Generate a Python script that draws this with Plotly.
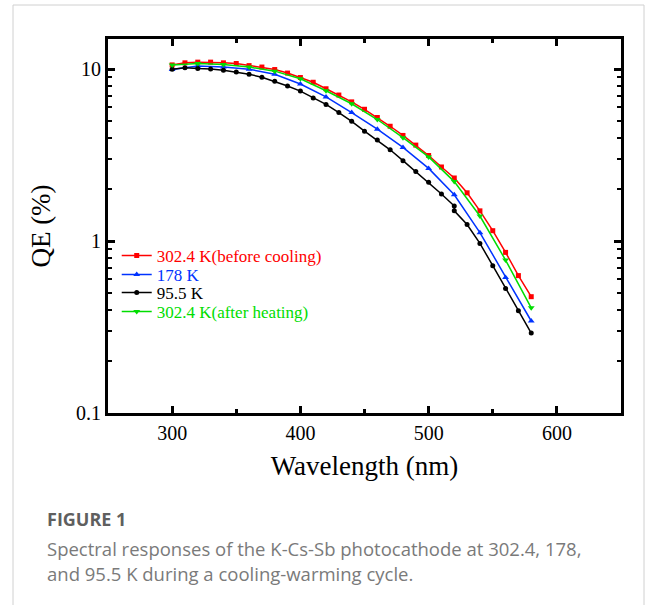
import plotly.graph_objects as go

# ---------------- data ----------------
wl_10 = [300, 310, 320, 330, 340, 350, 360, 370, 380, 390, 400, 410, 420, 430, 440,
         450, 460, 470, 480, 490, 500, 510, 520, 530, 540, 550, 560, 570, 580]
wl_20 = [300, 320, 340, 360, 380, 400, 420, 440, 460, 480, 500, 520, 540, 560, 580]
wl_black = [300, 310, 320, 330, 340, 350, 360, 370, 380, 390, 400, 410, 420, 430, 440,
            450, 460, 470, 480, 490, 500, 510, 520, 520, 530, 540, 550, 560, 570, 580]

qe_before = [10.6, 10.9, 11.0, 11.0, 10.9, 10.8, 10.5, 10.3, 9.96, 9.5, 8.95, 8.4, 7.7, 7.08, 6.46,
             5.85, 5.24, 4.66, 4.12, 3.62, 3.15, 2.70, 2.33, 1.91, 1.50, 1.15, 0.86, 0.63, 0.475]
qe_178 = [9.96, 10.45, 10.3, 10.0, 9.35, 8.2, 6.9, 5.6, 4.48, 3.51, 2.65, 1.86, 1.12, 0.615, 0.343]
qe_95 = [10.0, 10.2, 10.1, 10.05, 9.87, 9.64, 9.35, 8.99, 8.51, 7.99, 7.46, 6.8, 6.24, 5.6, 4.98,
         4.36, 3.87, 3.4, 2.94, 2.54, 2.2, 1.88, 1.6, 1.5, 1.25, 0.97, 0.72, 0.53, 0.394, 0.292]
qe_after = [10.6, 10.8, 10.65, 10.3, 9.75, 8.8, 7.5, 6.3, 5.1, 4.0, 3.09, 2.22, 1.40, 0.776, 0.409]

names = ["302.4 K(before cooling)", "178 K", "95.5 K", "302.4 K(after heating)"]
colors = ["#ff0000", "#0033ff", "#000000", "#00dd00"]
symbols = ["square", "triangle-up", "circle", "triangle-down"]
sizes = [5, 6, 5, 6]

xs = [wl_10, wl_20, wl_black, wl_20]
ys = [qe_before, qe_178, qe_95, qe_after]

x_ticks = [300, 400, 500, 600]
x_minor = [350, 450, 550]
y_ticks = [0.1, 1, 10]
y_ticklabels = ["0.1", "1", "10"]
y_minor = [0.2, 0.3, 0.4, 0.5, 0.6, 0.7, 0.8, 0.9, 2, 3, 4, 5, 6, 7, 8, 9]

# ---------------- figure ----------------
W, H = 656, 605
L, R, T, B = 108, 35, 39, 192
PW, PH = W - L - R, H - T - B

def px(x):
    return (x - L) / PW

def py(y):
    return (H - B - y) / PH

serif = "Liberation Serif, Times New Roman, serif"
legend_ids = ["legend", "legend2", "legend3", "legend4"]
legend_rows = [256, 275, 293, 312]

fig = go.Figure()
for x, y, n, c, s, sz, lg in zip(xs, ys, names, colors, symbols, sizes, legend_ids):
    fig.add_trace(go.Scatter(
        x=x, y=y, mode="lines+markers",
        name=f"<span style='color:{c}'>{n}</span>",
        line=dict(color=c, width=1.5),
        marker=dict(symbol=s, size=sz, color=c),
        legend=lg,
    ))

legend_layout = {}
for lg, row in zip(legend_ids, legend_rows):
    legend_layout[lg] = dict(
        x=0.017, y=py(row), xanchor="left", yanchor="middle",
        bgcolor="rgba(0,0,0,0)", borderwidth=0,
        font=dict(family=serif, size=17),
        itemwidth=30,
    )

fig.update_layout(
    width=W, height=H,
    margin=dict(l=L, r=R, t=T, b=B),
    paper_bgcolor="white", plot_bgcolor="white",
    font=dict(family=serif, color="black"),
    showlegend=True,
    **legend_layout,
    xaxis=dict(
        range=[250, 650], tickvals=x_ticks,
        ticks="inside", ticklen=7, tickwidth=2.5, tickcolor="black",
        minor=dict(tickvals=x_minor, ticks="inside", ticklen=4, tickwidth=2.5, tickcolor="black"),
        showline=True, linewidth=3, linecolor="black", mirror="ticks",
        showgrid=False, zeroline=False,
        tickfont=dict(family=serif, size=20),
        title=dict(text="Wavelength (nm)", font=dict(family=serif, size=27), standoff=14),
    ),
    yaxis=dict(
        type="log", range=[-1, 1.176],
        tickvals=y_ticks, ticktext=y_ticklabels,
        ticks="inside", ticklen=7, tickwidth=2.5, tickcolor="black",
        minor=dict(tickvals=y_minor, ticks="inside", ticklen=4, tickwidth=2, tickcolor="black", showgrid=False),
        showline=True, linewidth=3, linecolor="black", mirror="ticks",
        showgrid=False, zeroline=False,
        tickfont=dict(family=serif, size=20),
        title=dict(text="QE (%)", font=dict(family=serif, size=27), standoff=18),
    ),
)

# card border
fig.add_shape(type="rect", xref="paper", yref="paper",
              x0=px(13), x1=px(644), y0=py(640), y1=py(5),
              line=dict(color="#d0d0d0", width=1), fillcolor="rgba(0,0,0,0)", layer="below")

cap = "Open Sans, Noto Sans, sans-serif"
fig.add_annotation(xref="paper", yref="paper", x=px(45), y=py(519), xanchor="left", yanchor="middle",
                   text="<b>FIGURE 1</b>", showarrow=False,
                   font=dict(family=cap, size=18, color="#5f5f5f"))
fig.add_annotation(xref="paper", yref="paper", x=px(45), y=py(548), xanchor="left", yanchor="middle",
                   text="Spectral responses of the K-Cs-Sb photocathode at 302.4, 178,", showarrow=False,
                   font=dict(family=cap, size=18.5, color="#7a7a7a"))
fig.add_annotation(xref="paper", yref="paper", x=px(45), y=py(573), xanchor="left", yanchor="middle",
                   text="and 95.5 K during a cooling-warming cycle.", showarrow=False,
                   font=dict(family=cap, size=18.5, color="#7a7a7a"))

fig.write_html("out.html")
